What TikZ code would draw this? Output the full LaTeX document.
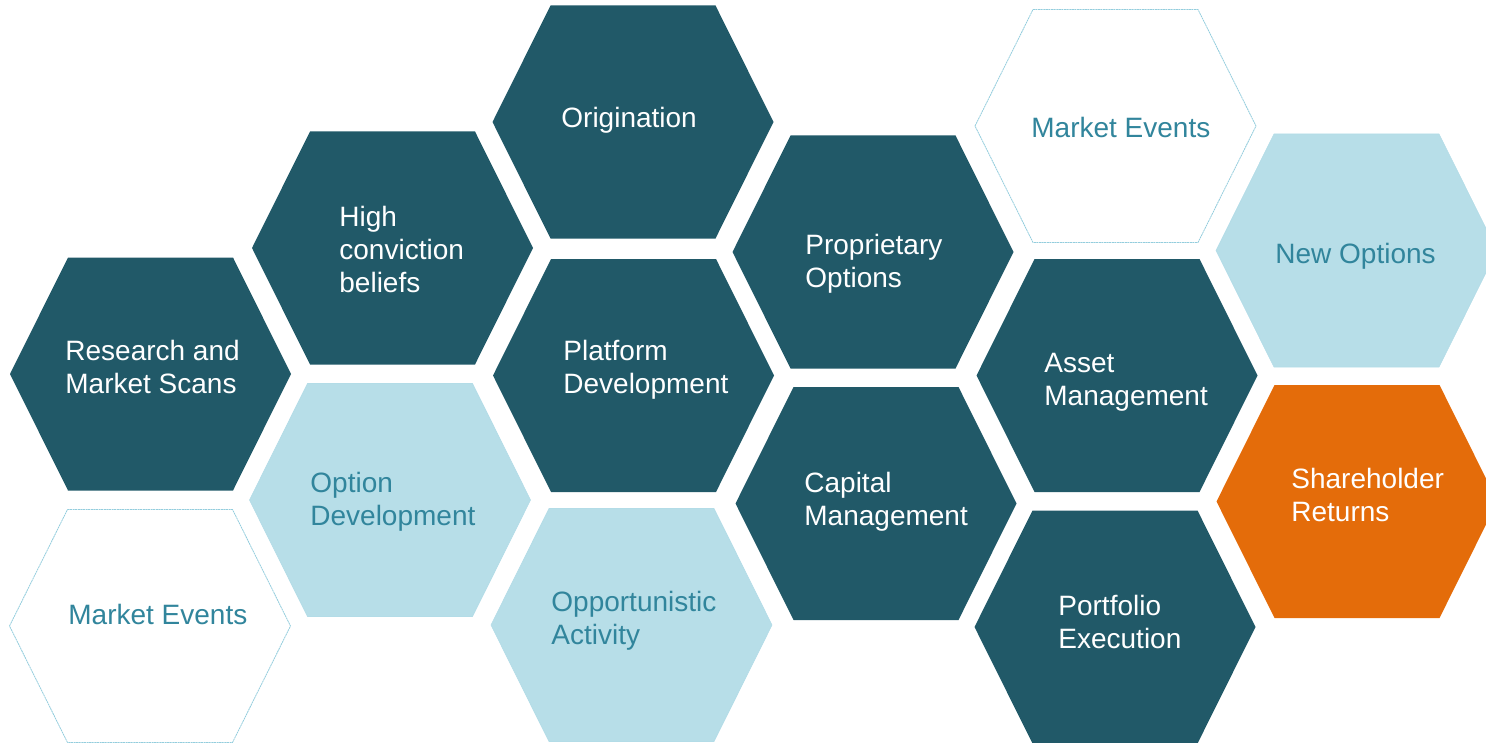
\documentclass[tikz,border=0pt]{standalone}
\usepackage{fontspec}
\setmainfont{Liberation Sans}
\definecolor{darkteal}{HTML}{215968}
\definecolor{paleblue}{HTML}{B7DEE8}
\definecolor{midteal}{HTML}{31859C}
\definecolor{burnt}{HTML}{E46C0A}
\definecolor{edgeblue}{HTML}{93CDDD}
\begin{document}
\begin{tikzpicture}[x=0.5pt,y=-0.5pt,
    hexcell/.pic={\path[pic actions] (-140.5,0) -- (-82.5,-116.5) -- (82.5,-116.5)
        -- (140.5,0) -- (82.5,116.5) -- (-82.5,116.5) -- cycle;},
    hexdark/.style={fill=darkteal},
    hexpale/.style={fill=paleblue, draw=edgeblue!70, line width=0.3pt},
    hexwhite/.style={fill=white, draw=edgeblue, line width=0.4pt, dash pattern=on 1pt off 0.3pt},
    hexorange/.style={fill=burnt},
    celltext/.style={anchor=west, align=left, inner sep=0pt, font=\fontsize{14}{16.5}\selectfont},
    lighttext/.style={celltext, text=white},
    tealtext/.style={celltext, text=midteal}]
    \useasboundingbox (0,0) rectangle (1486,743);
    \clip (0,0) rectangle (1486,743);
    % dark cells
    \foreach \x/\y/\tx/\ty/\id/\txt in {
        150.5/374/65/366.5/research/{Research and\\Market Scans},
        392.5/248/339/249/conviction/{High\\conviction\\beliefs},
        633/122/561/120/origination/{Origination},
        633.5/375.5/563/369.5/platform/{Platform\\Development},
        873/252/805/263.5/proprietary/{Proprietary\\Options},
        876/503.5/804/502/capital/{Capital\\Management},
        1117/375.5/1044/382/asset/{Asset\\Management},
        1115/627/1058/622/portfolio/{Portfolio\\Execution}} {
        \pic[hexdark] at (\x,\y) {hexcell};
        \node[lighttext] (\id) at (\tx,\ty) {\txt};
    }
    % pale cells
    \foreach \x/\y/\tx/\ty/\id/\txt in {
        390/500/310/502/optiondev/{Option\\Development},
        631.5/625/551/621/opportunistic/{Opportunistic\\Activity},
        1356.5/250.5/1275/256/newoptions/{New Options}} {
        \pic[hexpale] at (\x,\y) {hexcell};
        \node[tealtext] (\id) at (\tx,\ty) {\txt};
    }
    % outlined cells
    \foreach \x/\y/\tx/\ty/\id in {150/626/68/614/eventsleft, 1115.5/126/1031/127/eventsright} {
        \pic[hexwhite] at (\x,\y) {hexcell};
        \node[tealtext] (\id) at (\tx,\ty) {Market Events};
    }
    % returns
    \pic[hexorange] at (1357,501.5) {hexcell};
    \node[lighttext] (returns) at (1291,494.5) {Shareholder\\Returns};
\end{tikzpicture}
\end{document}
